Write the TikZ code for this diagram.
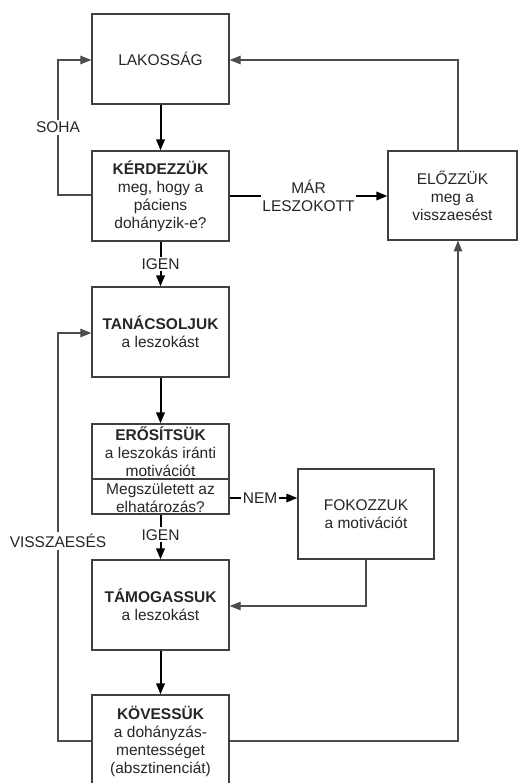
\documentclass[tikz,border=0pt]{standalone}
\usepackage{fontspec}
\setmainfont{Liberation Sans}
\usetikzlibrary{arrows.meta}
\begin{document}
\begin{tikzpicture}[x=1pt,y=-1pt,
  txt/.style={font=\fontsize{15.5}{18}\selectfont, text=black!85, align=center, inner sep=0pt},
  stepbox/.style={draw=black!75, line width=1.3pt, minimum width=137pt, minimum height=90pt, inner sep=0pt, txt},
  tip/.style={-{Triangle[length=11pt,width=8.5pt]}},
  mainflow/.style={tip, line width=2pt, draw=black},
  sideflow/.style={tip, line width=1.2pt, draw=black!70},
  lbl/.style={txt, fill=white, inner sep=2pt}
]
\clip (0,0) rectangle (518,783);
\fill[white] (0,0) rectangle (518,783);

% boxes
\node[stepbox] (lak) at (160.5,59) {LAKOSSÁG};
\node[stepbox] (ker) at (160.5,196) {\textbf{KÉRDEZZÜK}\\meg, hogy a\\páciens\\dohányzik-e?};
\node[stepbox, minimum width=129pt, minimum height=89pt] (elo) at (452.5,195.5) {ELŐZZÜK\\meg a\\visszaesést};
\node[stepbox] (tan) at (160.5,332) {\textbf{TANÁCSOLJUK}\\a leszokást};
\node[stepbox] (ero) at (160.5,469) {};
\node[txt] (eroA) at (160.5,452) {\textbf{ERŐSÍTSÜK}\\a leszokás iránti\\motivációt};
\node[txt] (eroB) at (160.5,498) {Megszületett az\\elhatározás?};
\draw[draw=black!75, line width=1.3pt] (ero.west |- 0,479) coordinate (divL) -- (ero.east |- 0,479) coordinate (divR);
\node[stepbox, minimum width=136pt] (fok) at (366,514) {FOKOZZUK\\a motivációt};
\node[stepbox] (tam) at (160.5,605) {\textbf{TÁMOGASSUK}\\a leszokást};
\node[stepbox, minimum height=92pt] (kov) at (160.5,741) {\textbf{KÖVESSÜK}\\a dohányzás-\\mentességet\\(absztinenciát)};

% main downward flow
\draw[mainflow] (lak) -- (ker);
\draw[mainflow] (ker) -- node[lbl] {IGEN} (tan);
\draw[mainflow] (tan) -- (ero);
\draw[mainflow] (ero) -- node[lbl, pos=0.45] {IGEN} (tam);
\draw[mainflow] (tam) -- (kov);

% sideways branches
\draw[mainflow] (ker.east |- 0,196) -- node[lbl, inner sep=1pt] {MÁR\\LESZOKOTT} (elo.west |- 0,196);
\draw[sideflow, draw=black, line width=1.5pt] (ero.east |- 0,498) -- node[lbl, inner sep=1.5pt, pos=0.45] {NEM} (fok.west |- 0,498);

% loops
\coordinate (sohaL) at (58,195);
\draw[sideflow] (ker.west |- sohaL) -- (sohaL) -- node[lbl] {SOHA} (58,60) -- (lak.west |- 0,60);
\draw[sideflow] (elo.north -| 458,0) -- (458,60) -- (lak.east |- 0,60);
\draw[sideflow] (fok.south) -- (366,606) -- (tam.east |- 0,606);
\draw[sideflow] (kov.west |- 0,741) -- (58,741) -- node[lbl, pos=0.49] {VISSZAESÉS} (58,333) -- (tan.west |- 0,333);
\draw[sideflow] (kov.east |- 0,741) -- (458,741) -- (458,240.5);
\end{tikzpicture}
\end{document}
